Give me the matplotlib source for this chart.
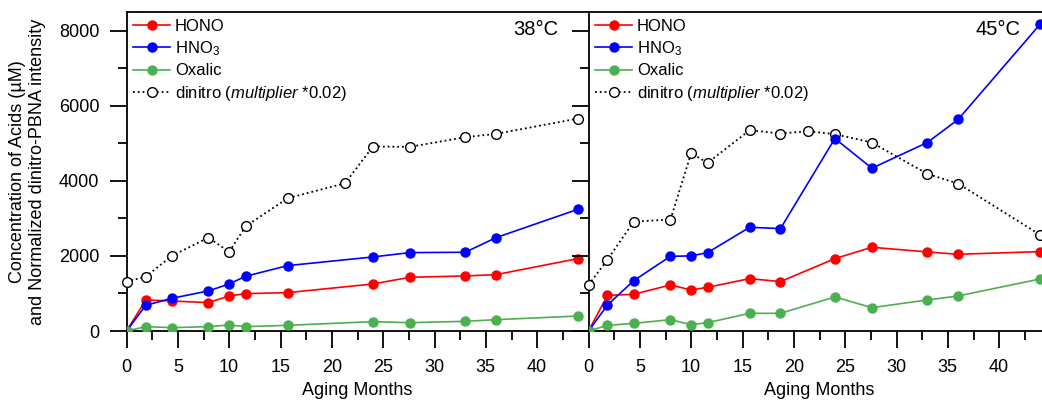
import matplotlib
matplotlib.use("Agg")
import matplotlib.pyplot as plt

plt.rcParams["font.family"] = ["Liberation Sans", "DejaVu Sans"]
plt.rcParams["mathtext.fontset"] = "custom"
plt.rcParams["mathtext.rm"] = "Liberation Sans"
plt.rcParams["mathtext.it"] = "Liberation Sans:italic"
plt.rcParams["mathtext.default"] = "regular"

# 38 C panel
months_38 = [0, 1.88, 4.41, 7.97, 10.0, 11.6, 15.7, 24.0, 27.6, 33.0, 36.0, 44.0]
hono_38 = [0, 827, 800, 756, 933, 996, 1022, 1253, 1431, 1467, 1502, 1930]
hno3_38 = [0, 684, 871, 1067, 1253, 1458, 1742, 1973, 2089, 2098, 2489, 3245]
oxalic_38 = [0, 116, 89, 116, 160, 116, 151, 249, 222, 258, 302, 400]
dinitro_months_38 = [0, 1.88, 4.41, 7.97, 10.0, 11.6, 15.7, 21.3, 24.0, 27.6, 33.0, 36.0, 44.0]
dinitro_38 = [1316, 1449, 2000, 2489, 2107, 2791, 3538, 3938, 4916, 4907, 5164, 5253, 5662]

# 45 C panel
months_45 = [0, 1.85, 4.41, 7.98, 10.0, 11.6, 15.7, 18.7, 24.0, 27.6, 33.0, 36.0, 44.0]
hono_45 = [0, 951, 978, 1227, 1093, 1164, 1396, 1316, 1929, 2231, 2107, 2044, 2116]
hno3_45 = [0, 693, 1342, 1991, 2000, 2089, 2764, 2729, 5129, 4338, 5022, 5636, 8178]
oxalic_45 = [0, 151, 204, 302, 169, 222, 471, 471, 907, 622, 827, 933, 1387]
dinitro_months_45 = [0, 1.85, 4.41, 7.98, 10.0, 11.6, 15.7, 18.7, 21.4, 24.0, 27.6, 33.0, 36.0, 44.0]
dinitro_45 = [1227, 1902, 2916, 2969, 4738, 4480, 5351, 5262, 5324, 5244, 5022, 4187, 3929, 2560]

panels = [
    ("38°C", months_38, hono_38, hno3_38, oxalic_38, dinitro_months_38, dinitro_38),
    ("45°C", months_45, hono_45, hno3_45, oxalic_45, dinitro_months_45, dinitro_45),
]

RED = "#ff0000"
BLUE = "#0000ff"
GREEN = "#4cb050"

fig = plt.figure(figsize=(10.42, 4.04), dpi=100)
ax_w = 462 / 1042
ax_b = 73 / 404
ax_h = 319 / 404
axes = [
    fig.add_axes([126.5 / 1042, ax_b, ax_w, ax_h]),
    fig.add_axes([588.5 / 1042, ax_b, ax_w, ax_h]),
]

for i, (ax, (temp, m, hono, hno3, oxa, dm, din)) in enumerate(zip(axes, panels)):
    ax.plot(dm, din, ls=":", color="black", lw=1.3, marker="o", ms=7,
            mfc="white", mec="black", mew=1.0, label="dinitro $\\mathit{(multiplier\\ {*}0.02)}$",
            clip_on=False, zorder=3)
    ax.plot(m, hono, color=RED, lw=1.2, marker="o", ms=6.5, label="HONO", zorder=4)
    ax.plot(m, hno3, color=BLUE, lw=1.2, marker="o", ms=6.5, label="HNO$_3$", zorder=4)
    ax.plot(m, oxa, color=GREEN, lw=1.2, marker="o", ms=6.5, label="Oxalic", zorder=4)

    ax.set_xlim(0, 45)
    ax.set_ylim(0, 8500)
    ax.set_xticks(range(0, 45, 5))
    ax.set_xticks([x + 2.5 for x in range(0, 45, 5)], minor=True)
    ax.set_yticks(range(0, 8001, 2000))
    ax.set_yticks(range(1000, 8001, 2000), minor=True)
    ax.tick_params(axis="both", which="major", direction="out", length=12.5,
                   width=1.3, labelsize=13, pad=7)
    ax.tick_params(axis="both", which="minor", direction="out", length=6.5, width=1.3)
    ax.tick_params(axis="x", which="major", pad=8)
    ax.spines["right"].set_visible(False)
    for s in ("left", "top", "bottom"):
        ax.spines[s].set_linewidth(1.3)
    ax.set_xlabel("Aging Months", fontsize=13, labelpad=4)

    ax.text(0.935, 0.944, temp, transform=ax.transAxes, ha="right", va="center",
            fontsize=14.5)

    handles, labels = ax.get_legend_handles_labels()
    order = [1, 2, 3, 0]
    ax.legend([handles[k] for k in order], [labels[k] for k in order],
              loc="upper left", bbox_to_anchor=(0, 1), borderaxespad=0,
              borderpad=0.4, frameon=False, fontsize=12, handlelength=2.2,
              handletextpad=0.3, labelspacing=0.33)

    if i == 1:
        ax.tick_params(axis="y", which="both", labelleft=False)

axes[0].set_ylabel("Concentration of Acids (µM)\nand Normalized dinitro-PBNA intensity",
                   fontsize=13, labelpad=9, linespacing=1.25)

fig.savefig("out.png", dpi=100)
